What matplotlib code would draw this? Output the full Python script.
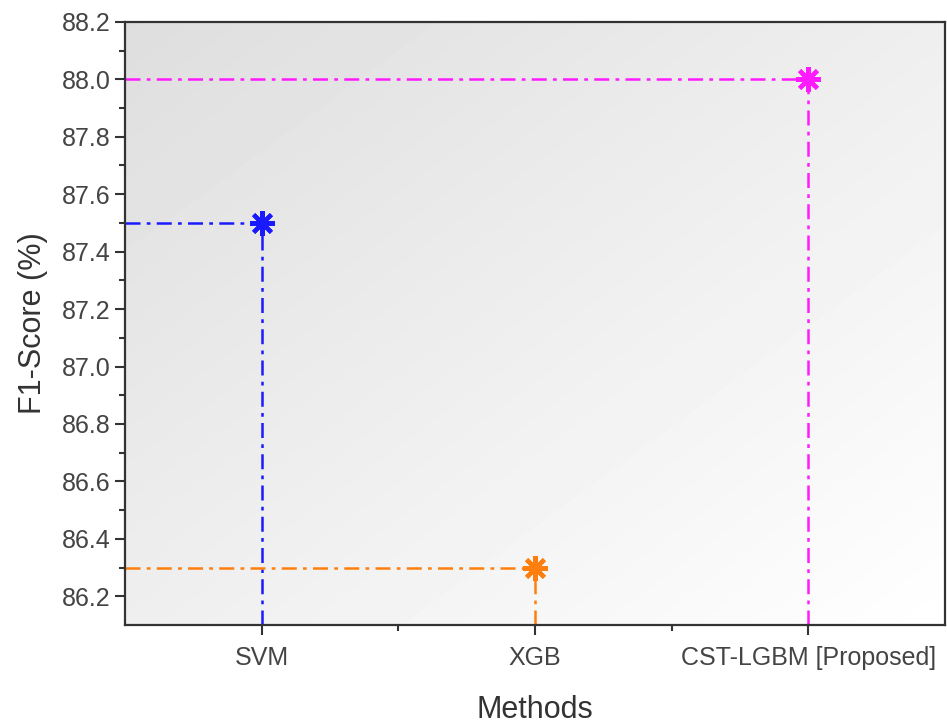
import numpy as np
import matplotlib.pyplot as plt

plt.rcParams['font.family'] = ['Liberation Sans', 'DejaVu Sans']

methods = ['SVM', 'XGB', 'CST-LGBM [Proposed]']
f1 = [87.5, 86.3, 88.0]
colors = ['#1a1aff', '#ff7f0e', '#ff1aff']

fig = plt.figure(figsize=(9.47, 7.26), dpi=100)
ax = fig.add_axes([0.132, 0.139, 0.866, 0.831])

# gradient background: grey top-left -> white bottom-right
gx, gy = np.meshgrid(np.linspace(0, 1, 200), np.linspace(0, 1, 200))
g = (gx + gy) / 2.0
ax.imshow(0.87 + 0.13 * g, cmap='gray', vmin=0, vmax=1, extent=[0, 1, 0, 1],
          transform=ax.transAxes, aspect='auto', zorder=0, origin='upper')

xlo, ylo = 0.5, 86.1
x = np.arange(1, len(methods) + 1)
for xi, yi, c in zip(x, f1, colors):
    ax.plot([xlo, xi], [yi, yi], color=c, ls=(0, (6, 2.5, 1.5, 2.5)), lw=1.8, zorder=2)
    ax.plot([xi, xi], [ylo, yi], color=c, ls=(0, (6, 2.5, 1.5, 2.5)), lw=1.8, zorder=2)
    ax.plot(xi, yi, marker=(8, 2, 0), ms=18, mew=3, color=c, zorder=3)

ax.set_xlim(0.5, 3.5)
ax.set_ylim(86.1, 88.2)
ax.set_xticks(x)
ax.set_xticklabels(methods)
ax.set_xticks([1.5, 2.5], minor=True)
ax.set_yticks(np.arange(86.2, 88.21, 0.2))
ax.set_yticklabels(['%.1f' % v for v in np.arange(86.2, 88.21, 0.2)])
ax.set_yticks(np.arange(86.3, 88.2, 0.2), minor=True)
ax.tick_params(axis='both', which='major', direction='out', length=7, width=1.5,
               labelsize=18, colors='#333333', labelcolor='#444444')
ax.tick_params(axis='both', which='minor', direction='out', length=4, width=1.5,
               colors='#333333')
ax.tick_params(axis='x', which='major', pad=8)
ax.tick_params(top=False, right=False, which='both')
for s in ax.spines.values():
    s.set_linewidth(1.6)
    s.set_color('#333333')

ax.set_xlabel('Methods', fontsize=22, color='#333333', labelpad=18)
ax.set_ylabel('F1-Score (%)', fontsize=22, color='#333333', labelpad=10)

fig.savefig('out.png', dpi=100)
